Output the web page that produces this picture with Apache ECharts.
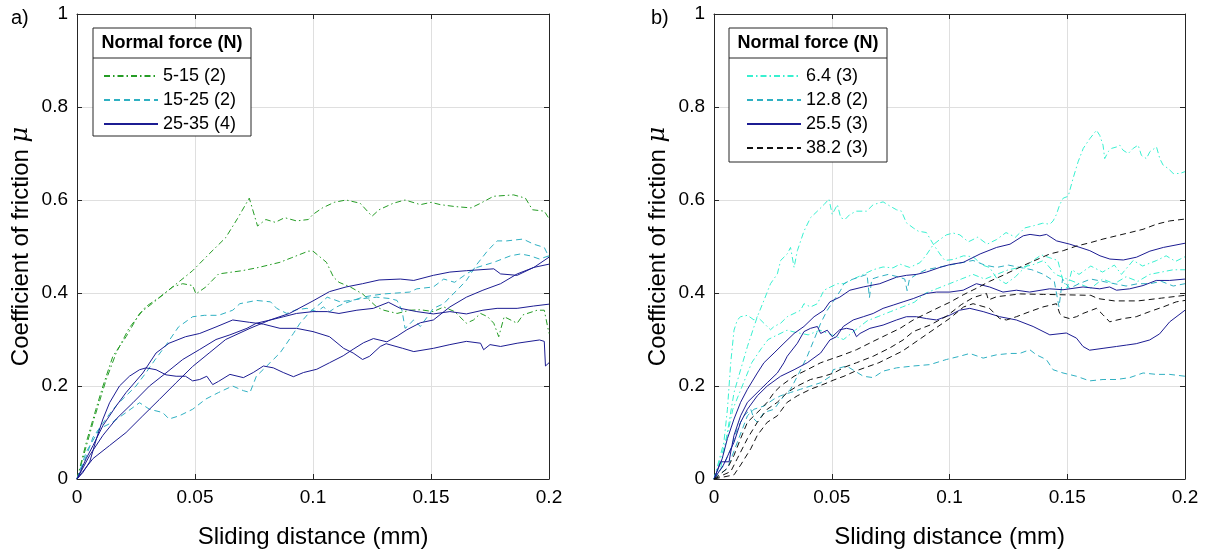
<!DOCTYPE html>
<html>
<head>
<meta charset="utf-8">
<script src="https://cdn.jsdelivr.net/npm/echarts@6/dist/echarts.min.js"></script>
<style>
html,body{margin:0;padding:0;background:#fff;}
#chart{width:1210px;height:554px;}
</style>
</head>
<body>
<div id="chart"></div>
<script>
// ---------- DATA ----------
const xTicks = [0, 0.05, 0.1, 0.15, 0.2];
const yTicks = [0, 0.2, 0.4, 0.6, 0.8, 1];
const legendLeft = ['5-15 (2)', '15-25 (2)', '25-35 (4)'];
const legendRight = ['6.4 (3)', '12.8 (2)', '25.5 (3)', '38.2 (3)'];

// Panel a) — 5-15 N (green dash-dot)
const a_g1 = [[0,0],[0.004,0.08],[0.008,0.15],[0.011,0.2],[0.0152,0.264],[0.0208,0.306],[0.0265,0.356],[0.0335,0.384],[0.0405,0.413],[0.049,0.448],[0.056,0.484],[0.063,0.519],[0.068,0.56],[0.073,0.604],[0.0765,0.544],[0.08,0.558],[0.084,0.552],[0.088,0.562],[0.093,0.555],[0.098,0.558],[0.1,0.569],[0.104,0.583],[0.109,0.595],[0.114,0.6],[0.12,0.593],[0.125,0.565],[0.128,0.579],[0.134,0.593],[0.139,0.6],[0.1455,0.59],[0.15,0.595],[0.154,0.59],[0.16,0.586],[0.167,0.583],[0.171,0.593],[0.1765,0.608],[0.185,0.611],[0.19,0.604],[0.193,0.579],[0.198,0.576],[0.2,0.56]];
const a_g2 = [[0,0],[0.0068,0.122],[0.0124,0.214],[0.0166,0.271],[0.022,0.324],[0.029,0.37],[0.035,0.391],[0.0405,0.413],[0.0448,0.42],[0.049,0.416],[0.0504,0.398],[0.0546,0.413],[0.06,0.441],[0.07,0.448],[0.077,0.455],[0.086,0.466],[0.091,0.476],[0.098,0.49],[0.1,0.49],[0.1057,0.466],[0.1087,0.434],[0.111,0.423],[0.1158,0.413],[0.121,0.398],[0.124,0.384],[0.127,0.37],[0.13,0.363],[0.1356,0.356],[0.141,0.363],[0.1455,0.364],[0.151,0.36],[0.1554,0.37],[0.16,0.36],[0.165,0.335],[0.168,0.342],[0.171,0.356],[0.174,0.349],[0.1766,0.335],[0.1787,0.306],[0.181,0.349],[0.1865,0.335],[0.189,0.353],[0.195,0.363],[0.198,0.363],[0.2,0.313]];
// 15-25 N (teal dashed)
const a_t1 = [[0,0],[0.004,0.05],[0.0068,0.09],[0.011,0.12],[0.0138,0.14],[0.017,0.16],[0.021,0.18],[0.025,0.2],[0.029,0.227],[0.033,0.256],[0.038,0.29],[0.043,0.327],[0.049,0.349],[0.054,0.352],[0.06,0.352],[0.066,0.363],[0.069,0.377],[0.076,0.384],[0.082,0.381],[0.0846,0.367],[0.0889,0.356],[0.093,0.364],[0.0974,0.367],[0.1016,0.36],[0.1044,0.37],[0.107,0.36],[0.11,0.37],[0.113,0.377],[0.117,0.384],[0.121,0.391],[0.1256,0.395],[0.13,0.398],[0.1356,0.4],[0.141,0.402],[0.144,0.409],[0.151,0.413],[0.1554,0.43],[0.16,0.423],[0.165,0.441],[0.1695,0.455],[0.1766,0.466],[0.1837,0.48],[0.188,0.484],[0.192,0.48],[0.196,0.473],[0.2,0.48]];
const a_t2 = [[0,0],[0.0039,0.058],[0.0096,0.108],[0.015,0.122],[0.0208,0.143],[0.0265,0.164],[0.0307,0.15],[0.0363,0.143],[0.039,0.129],[0.0434,0.136],[0.049,0.15],[0.0546,0.172],[0.06,0.186],[0.0659,0.2],[0.0705,0.19],[0.0733,0.186],[0.076,0.221],[0.079,0.236],[0.0818,0.25],[0.086,0.271],[0.0889,0.292],[0.0917,0.313],[0.0945,0.335],[0.0988,0.36],[0.103,0.377],[0.106,0.391],[0.1115,0.381],[0.1158,0.384],[0.121,0.388],[0.127,0.391],[0.1327,0.388],[0.1356,0.384],[0.1377,0.363],[0.139,0.324],[0.14,0.328],[0.1426,0.342],[0.1455,0.328],[0.151,0.367],[0.1554,0.377],[0.158,0.391],[0.161,0.406],[0.165,0.427],[0.1695,0.462],[0.174,0.491],[0.178,0.512],[0.182,0.512],[0.189,0.516],[0.1935,0.505],[0.198,0.498],[0.2,0.477]];
// 25-35 N (navy solid)
const a_n1 = [[0,0],[0.0054,0.051],[0.011,0.094],[0.0166,0.129],[0.0237,0.164],[0.0307,0.2],[0.0377,0.228],[0.0448,0.257],[0.0518,0.278],[0.0589,0.3],[0.0648,0.31],[0.072,0.324],[0.076,0.335],[0.082,0.342],[0.0875,0.349],[0.093,0.356],[0.1,0.36],[0.106,0.36],[0.111,0.356],[0.1186,0.363],[0.1256,0.367],[0.128,0.372],[0.132,0.38],[0.137,0.367],[0.144,0.36],[0.151,0.355],[0.158,0.36],[0.165,0.355],[0.172,0.363],[0.178,0.367],[0.1865,0.367],[0.1935,0.372],[0.2,0.376]];
const a_n2 = [[0,0],[0.0068,0.044],[0.0138,0.072],[0.0208,0.1],[0.0279,0.136],[0.0349,0.171],[0.042,0.207],[0.049,0.242],[0.056,0.271],[0.063,0.3],[0.0733,0.324],[0.0818,0.342],[0.09,0.356],[0.1,0.383],[0.107,0.403],[0.114,0.413],[0.121,0.42],[0.128,0.428],[0.137,0.43],[0.1427,0.427],[0.151,0.438],[0.158,0.445],[0.165,0.448],[0.1766,0.452],[0.1795,0.441],[0.1865,0.438],[0.1935,0.455],[0.2,0.462]];
const a_n3 = [[0,0],[0.0039,0.044],[0.0068,0.072],[0.011,0.115],[0.0166,0.157],[0.0208,0.186],[0.0279,0.228],[0.0335,0.271],[0.039,0.292],[0.046,0.306],[0.052,0.313],[0.0589,0.327],[0.066,0.342],[0.073,0.337],[0.079,0.333],[0.086,0.324],[0.093,0.324],[0.1,0.317],[0.107,0.306],[0.113,0.281],[0.117,0.271],[0.121,0.257],[0.124,0.264],[0.1285,0.285],[0.131,0.291],[0.138,0.281],[0.1427,0.274],[0.151,0.281],[0.158,0.289],[0.165,0.296],[0.171,0.292],[0.1723,0.278],[0.175,0.289],[0.1795,0.285],[0.1865,0.292],[0.196,0.299],[0.198,0.296],[0.1985,0.243],[0.2,0.25]];
const a_n4 = [[0,0],[0.0025,0.014],[0.0054,0.037],[0.0082,0.086],[0.011,0.129],[0.0138,0.164],[0.018,0.2],[0.0222,0.221],[0.0265,0.235],[0.0293,0.239],[0.0335,0.235],[0.0377,0.224],[0.042,0.221],[0.046,0.221],[0.049,0.211],[0.052,0.214],[0.055,0.221],[0.0575,0.203],[0.06,0.21],[0.0648,0.225],[0.0705,0.218],[0.0747,0.229],[0.079,0.243],[0.0832,0.239],[0.0874,0.229],[0.0917,0.22],[0.096,0.229],[0.1016,0.236],[0.107,0.25],[0.1128,0.265],[0.117,0.279],[0.1214,0.293],[0.1256,0.302],[0.1313,0.295],[0.1356,0.307],[0.1398,0.321],[0.1455,0.336],[0.151,0.342],[0.158,0.37],[0.165,0.391],[0.172,0.406],[0.1795,0.42],[0.1865,0.441],[0.1936,0.455],[0.2,0.477]];

// Panel b) — 6.4 N (cyan dash-dot)
const b_c1 = [[0,0],[0.0028,0.023],[0.0057,0.101],[0.0085,0.186],[0.0113,0.235],[0.0142,0.285],[0.0184,0.349],[0.0212,0.384],[0.024,0.42],[0.0269,0.441],[0.0283,0.47],[0.0311,0.484],[0.0325,0.498],[0.034,0.455],[0.0354,0.491],[0.0382,0.533],[0.041,0.562],[0.0439,0.576],[0.0467,0.59],[0.0488,0.602],[0.0502,0.569],[0.0524,0.59],[0.0538,0.562],[0.0556,0.558],[0.0577,0.569],[0.0605,0.576],[0.0648,0.576],[0.0676,0.59],[0.0718,0.596],[0.0747,0.587],[0.0775,0.579],[0.0796,0.576],[0.0817,0.551],[0.0846,0.54],[0.0867,0.533],[0.0902,0.53],[0.0931,0.505],[0.0959,0.484],[0.098,0.47],[0.1015,0.472],[0.106,0.48],[0.11,0.478],[0.114,0.46],[0.117,0.455],[0.12,0.432],[0.124,0.42],[0.128,0.435],[0.131,0.45],[0.135,0.468],[0.139,0.482],[0.143,0.475],[0.146,0.47],[0.148,0.43],[0.15,0.41],[0.152,0.45],[0.155,0.44],[0.16,0.458],[0.165,0.445],[0.17,0.46],[0.173,0.44],[0.178,0.47],[0.182,0.458],[0.188,0.47],[0.192,0.48],[0.196,0.468],[0.2,0.478]];
const b_c2 = [[0,0],[0.005,0.08],[0.008,0.15],[0.012,0.2],[0.016,0.25],[0.02,0.28],[0.023,0.3],[0.027,0.31],[0.031,0.32],[0.035,0.315],[0.04,0.31],[0.045,0.32],[0.05,0.31],[0.055,0.3],[0.06,0.32],[0.065,0.34],[0.07,0.35],[0.075,0.36],[0.08,0.37],[0.085,0.38],[0.09,0.4],[0.095,0.41],[0.1,0.42],[0.105,0.43],[0.11,0.44],[0.115,0.43],[0.12,0.44],[0.125,0.45],[0.13,0.455],[0.135,0.46],[0.14,0.47],[0.145,0.44],[0.15,0.43],[0.155,0.42],[0.16,0.41],[0.165,0.43],[0.17,0.42],[0.175,0.435],[0.18,0.425],[0.185,0.44],[0.19,0.445],[0.195,0.45],[0.2,0.45]];
const b_c3 = [[0,0],[0.0042,0.079],[0.0057,0.15],[0.0071,0.25],[0.0085,0.32],[0.0099,0.342],[0.0113,0.349],[0.0142,0.352],[0.017,0.342],[0.0184,0.349],[0.0198,0.342],[0.0212,0.335],[0.0226,0.328],[0.024,0.321],[0.0255,0.328],[0.0283,0.335],[0.0311,0.349],[0.034,0.356],[0.0368,0.363],[0.0382,0.377],[0.041,0.37],[0.0439,0.377],[0.0467,0.406],[0.0495,0.413],[0.0524,0.42],[0.0552,0.42],[0.0592,0.43],[0.0634,0.44],[0.0676,0.45],[0.0718,0.456],[0.076,0.454],[0.079,0.462],[0.0831,0.455],[0.0874,0.465],[0.0902,0.482],[0.0931,0.504],[0.0959,0.515],[0.0987,0.525],[0.1015,0.529],[0.1044,0.525],[0.108,0.51],[0.112,0.52],[0.116,0.505],[0.12,0.515],[0.124,0.53],[0.128,0.52],[0.132,0.54],[0.136,0.545],[0.1395,0.55],[0.1426,0.548],[0.144,0.555],[0.1454,0.569],[0.1468,0.59],[0.1483,0.604],[0.1504,0.608],[0.1525,0.647],[0.1546,0.682],[0.1568,0.711],[0.1596,0.732],[0.1624,0.75],[0.1638,0.739],[0.1652,0.718],[0.1659,0.689],[0.1674,0.704],[0.1688,0.711],[0.1709,0.714],[0.1723,0.718],[0.1737,0.707],[0.1759,0.7],[0.178,0.711],[0.1801,0.718],[0.1815,0.696],[0.1836,0.689],[0.1851,0.704],[0.1879,0.714],[0.1893,0.689],[0.1907,0.675],[0.1928,0.668],[0.195,0.657],[0.1978,0.657],[0.2,0.661]];
// 12.8 N (teal dashed)
const b_t1 = [[0,0],[0.0057,0.023],[0.0099,0.079],[0.0142,0.136],[0.017,0.15],[0.0212,0.157],[0.0255,0.172],[0.0283,0.179],[0.0325,0.186],[0.0368,0.193],[0.041,0.2],[0.0453,0.207],[0.0495,0.221],[0.0506,0.235],[0.0563,0.243],[0.0634,0.221],[0.0676,0.218],[0.0718,0.232],[0.0775,0.239],[0.0846,0.243],[0.0917,0.246],[0.0987,0.257],[0.1044,0.264],[0.1086,0.27],[0.1143,0.26],[0.1199,0.267],[0.1256,0.27],[0.1298,0.27],[0.1341,0.278],[0.1369,0.267],[0.1411,0.257],[0.144,0.235],[0.1482,0.228],[0.1539,0.221],[0.1595,0.211],[0.1652,0.214],[0.1709,0.214],[0.1765,0.218],[0.1822,0.228],[0.1878,0.225],[0.1935,0.225],[0.2,0.221]];
const b_t2 = [[0,0],[0.0042,0.03],[0.0071,0.065],[0.0099,0.108],[0.0127,0.136],[0.0156,0.15],[0.017,0.129],[0.0184,0.122],[0.0212,0.143],[0.0255,0.15],[0.0297,0.179],[0.0325,0.193],[0.0354,0.221],[0.0368,0.235],[0.0396,0.264],[0.0425,0.3],[0.0453,0.335],[0.0481,0.363],[0.0509,0.384],[0.0538,0.406],[0.0552,0.42],[0.058,0.428],[0.062,0.435],[0.065,0.44],[0.066,0.39],[0.067,0.43],[0.07,0.435],[0.074,0.44],[0.078,0.435],[0.081,0.43],[0.082,0.405],[0.083,0.43],[0.086,0.44],[0.09,0.45],[0.095,0.455],[0.1,0.46],[0.105,0.465],[0.11,0.47],[0.115,0.46],[0.12,0.455],[0.125,0.46],[0.13,0.455],[0.135,0.45],[0.14,0.44],[0.1445,0.425],[0.1465,0.37],[0.148,0.43],[0.151,0.41],[0.155,0.42],[0.16,0.43],[0.165,0.425],[0.17,0.42],[0.175,0.415],[0.18,0.42],[0.185,0.42],[0.19,0.425],[0.195,0.415],[0.2,0.42]];
// 25.5 N (navy solid)
const b_n1 = [[0,0],[0.0035,0.044],[0.0057,0.087],[0.0085,0.129],[0.0113,0.165],[0.0142,0.193],[0.0184,0.228],[0.0212,0.25],[0.0255,0.271],[0.0297,0.292],[0.034,0.313],[0.0382,0.328],[0.0425,0.349],[0.0467,0.363],[0.0492,0.381],[0.0534,0.391],[0.0577,0.406],[0.0634,0.413],[0.0704,0.42],[0.0775,0.434],[0.0817,0.438],[0.086,0.44],[0.0902,0.445],[0.0959,0.455],[0.1001,0.461],[0.1059,0.466],[0.113,0.484],[0.12,0.498],[0.1257,0.505],[0.1313,0.523],[0.1342,0.526],[0.1384,0.523],[0.1412,0.526],[0.1455,0.512],[0.1511,0.505],[0.1554,0.498],[0.1596,0.491],[0.1639,0.48],[0.1681,0.473],[0.1738,0.471],[0.1794,0.477],[0.1851,0.49],[0.1908,0.498],[0.2,0.507]];
const b_n2 = [[0,0],[0.004,0.03],[0.0085,0.079],[0.0113,0.122],[0.0142,0.15],[0.0184,0.179],[0.0226,0.2],[0.0283,0.221],[0.034,0.235],[0.0396,0.25],[0.0453,0.271],[0.0492,0.299],[0.052,0.306],[0.0549,0.328],[0.0591,0.342],[0.0634,0.349],[0.0676,0.356],[0.0718,0.367],[0.0761,0.374],[0.0803,0.381],[0.0846,0.388],[0.0902,0.399],[0.0945,0.402],[0.1001,0.402],[0.1058,0.406],[0.1114,0.42],[0.117,0.413],[0.1227,0.402],[0.1284,0.406],[0.134,0.402],[0.1425,0.409],[0.1482,0.407],[0.1567,0.413],[0.1638,0.409],[0.168,0.413],[0.1709,0.406],[0.1765,0.409],[0.1822,0.416],[0.1878,0.427],[0.1935,0.427],[0.2,0.43]];
const b_n3 = [[0,0],[0.0028,0.037],[0.0064,0.037],[0.0071,0.058],[0.0085,0.094],[0.0113,0.136],[0.0142,0.165],[0.017,0.179],[0.0198,0.193],[0.0226,0.207],[0.0269,0.228],[0.0297,0.25],[0.0311,0.264],[0.0354,0.292],[0.0382,0.317],[0.041,0.324],[0.0439,0.328],[0.0453,0.313],[0.0481,0.32],[0.0502,0.306],[0.0534,0.321],[0.0563,0.324],[0.0591,0.321],[0.0605,0.306],[0.062,0.313],[0.0662,0.324],[0.0718,0.331],[0.0775,0.342],[0.0817,0.349],[0.086,0.349],[0.0902,0.345],[0.0945,0.342],[0.1,0.352],[0.1043,0.363],[0.1086,0.367],[0.1143,0.36],[0.1213,0.349],[0.1284,0.342],[0.1355,0.328],[0.1426,0.31],[0.1496,0.314],[0.1539,0.303],[0.1567,0.285],[0.1595,0.277],[0.1652,0.281],[0.1709,0.285],[0.1751,0.288],[0.1793,0.291],[0.185,0.299],[0.1892,0.312],[0.1935,0.338],[0.2,0.363]];
// 38.2 N (black dashed)
const b_k1 = [[0,0],[0.0057,0.023],[0.0085,0.051],[0.0113,0.087],[0.0142,0.122],[0.017,0.136],[0.0198,0.15],[0.0226,0.165],[0.0255,0.186],[0.0283,0.2],[0.034,0.221],[0.0396,0.235],[0.0453,0.25],[0.0492,0.257],[0.0549,0.267],[0.0605,0.278],[0.0676,0.296],[0.0733,0.31],[0.079,0.324],[0.0846,0.342],[0.0902,0.356],[0.0959,0.37],[0.1001,0.38],[0.1058,0.396],[0.1114,0.41],[0.117,0.425],[0.1227,0.438],[0.1284,0.452],[0.134,0.465],[0.1426,0.484],[0.1483,0.491],[0.1539,0.501],[0.1596,0.508],[0.1652,0.516],[0.1709,0.523],[0.1766,0.53],[0.1822,0.537],[0.1879,0.548],[0.1935,0.555],[0.2,0.559]];
const b_k2 = [[0,0],[0.0071,0.016],[0.0099,0.044],[0.0142,0.087],[0.0184,0.122],[0.0226,0.15],[0.0269,0.165],[0.0311,0.186],[0.0354,0.2],[0.041,0.214],[0.0467,0.221],[0.0509,0.228],[0.0552,0.24],[0.0605,0.25],[0.0676,0.264],[0.0747,0.282],[0.0803,0.299],[0.0846,0.317],[0.0917,0.331],[0.0987,0.35],[0.105,0.375],[0.11,0.39],[0.1157,0.399],[0.1165,0.385],[0.12,0.392],[0.13,0.398],[0.14,0.397],[0.15,0.396],[0.16,0.395],[0.163,0.388],[0.17,0.383],[0.18,0.383],[0.19,0.389],[0.2,0.395]];
const b_k3 = [[0,0],[0.0085,0.009],[0.0113,0.03],[0.0156,0.065],[0.0184,0.094],[0.0226,0.122],[0.0269,0.136],[0.0311,0.165],[0.0354,0.179],[0.041,0.193],[0.0467,0.204],[0.0509,0.213],[0.0552,0.221],[0.06,0.232],[0.07,0.25],[0.08,0.275],[0.09,0.31],[0.1,0.345],[0.106,0.37],[0.11,0.377],[0.117,0.367],[0.1213,0.345],[0.1242,0.342],[0.1284,0.349],[0.1341,0.36],[0.1397,0.37],[0.1454,0.377],[0.1468,0.356],[0.1482,0.349],[0.151,0.345],[0.1539,0.349],[0.1567,0.356],[0.1624,0.367],[0.1652,0.353],[0.168,0.338],[0.1737,0.345],[0.1793,0.349],[0.185,0.36],[0.1907,0.37],[0.1963,0.381],[0.2,0.384]];

// ---------- STYLE ----------
const FONT = 'Liberation Sans, Arial, Helvetica, sans-serif';
const C_GREEN = '#259c25', C_TEAL = '#2fb0c2', C_NAVY = '#1c1c92', C_CYAN = '#38f0d0', C_BLACK = '#111111';
const DASHDOT = [6, 3, 1.5, 3], DASH = [6, 4];

function line(name, data, color, dash, panel) {
  return {
    type: 'line', name: name, data: data,
    xAxisIndex: panel * 2, yAxisIndex: panel * 2,
    symbol: 'none', showSymbol: false, smooth: false, animation: false,
    lineStyle: { color: color, width: 1, type: dash },
    itemStyle: { color: color },
    emphasis: { disabled: true }
  };
}

const grids = [
  { left: 77, top: 14, width: 472, height: 470 },
  { left: 714, top: 14, width: 471, height: 470 }
];

function xAxes(gi) {
  const base = { type: 'value', gridIndex: gi, min: xTicks[0], max: xTicks[xTicks.length - 1], interval: xTicks[1] - xTicks[0] };
  return [
    Object.assign({}, base, {
      position: 'bottom',
      name: 'Sliding distance (mm)', nameLocation: 'middle', nameGap: 46,
      nameTextStyle: { fontSize: 24, fontFamily: FONT, color: '#000' },
      axisLine: { show: true, onZero: false, lineStyle: { color: '#262626', width: 1 } },
      axisTick: { show: true, inside: true, length: 5, lineStyle: { color: '#262626' } },
      axisLabel: { show: true, margin: 9, fontSize: 19, fontFamily: FONT, color: '#000' },
      splitLine: { show: true, lineStyle: { color: '#dfdfdf', width: 1 } }
    }),
    Object.assign({}, base, {
      position: 'top',
      axisLine: { show: true, onZero: false, lineStyle: { color: '#262626', width: 1 } },
      axisTick: { show: true, inside: true, length: 5, lineStyle: { color: '#262626' } },
      axisLabel: { show: false }, splitLine: { show: false }
    })
  ];
}
function yAxes(gi) {
  const base = { type: 'value', gridIndex: gi, min: yTicks[0], max: yTicks[yTicks.length - 1], interval: yTicks[1] - yTicks[0] };
  return [
    Object.assign({}, base, {
      position: 'left',
      name: 'Coefficient of friction {i|μ}', nameLocation: 'middle', nameGap: 44,
      nameTextStyle: { fontSize: 24, fontFamily: FONT, color: '#000', rich: { i: { fontSize: 24, fontStyle: 'italic', fontFamily: 'DejaVu Serif, serif', color: '#000' } } },
      axisLine: { show: true, onZero: false, lineStyle: { color: '#262626', width: 1 } },
      axisTick: { show: true, inside: true, length: 5, lineStyle: { color: '#262626' } },
      axisLabel: { show: true, margin: 9, fontSize: 19, fontFamily: FONT, color: '#000' },
      splitLine: { show: true, lineStyle: { color: '#dfdfdf', width: 1 } }
    }),
    Object.assign({}, base, {
      position: 'right',
      axisLine: { show: true, onZero: false, lineStyle: { color: '#262626', width: 1 } },
      axisTick: { show: true, inside: true, length: 5, lineStyle: { color: '#262626' } },
      axisLabel: { show: false }, splitLine: { show: false }
    })
  ];
}

const series = [
  line(legendLeft[0], a_g1, C_GREEN, DASHDOT, 0),
  line(legendLeft[0], a_g2, C_GREEN, DASHDOT, 0),
  line(legendLeft[1], a_t1, C_TEAL, DASH, 0),
  line(legendLeft[1], a_t2, C_TEAL, DASH, 0),
  line(legendLeft[2], a_n1, C_NAVY, 'solid', 0),
  line(legendLeft[2], a_n2, C_NAVY, 'solid', 0),
  line(legendLeft[2], a_n3, C_NAVY, 'solid', 0),
  line(legendLeft[2], a_n4, C_NAVY, 'solid', 0),
  line(legendRight[0], b_c1, C_CYAN, DASHDOT, 1),
  line(legendRight[0], b_c2, C_CYAN, DASHDOT, 1),
  line(legendRight[0], b_c3, C_CYAN, DASHDOT, 1),
  line(legendRight[1], b_t1, C_TEAL, DASH, 1),
  line(legendRight[1], b_t2, C_TEAL, DASH, 1),
  line(legendRight[2], b_n1, C_NAVY, 'solid', 1),
  line(legendRight[2], b_n2, C_NAVY, 'solid', 1),
  line(legendRight[2], b_n3, C_NAVY, 'solid', 1),
  line(legendRight[3], b_k1, C_BLACK, DASH, 1),
  line(legendRight[3], b_k2, C_BLACK, DASH, 1),
  line(legendRight[3], b_k3, C_BLACK, DASH, 1)
];

function legendBox(x, y, w, h, sepY) {
  return [
    { type: 'rect', z: 3, shape: { x: x, y: y, width: w, height: h }, style: { fill: '#fff', stroke: '#262626', lineWidth: 1 } },
    { type: 'line', z: 3, shape: { x1: x, y1: sepY, x2: x + w, y2: sepY }, style: { stroke: '#262626', lineWidth: 1 } },
    { type: 'text', z: 3, x: x + w / 2, y: y + (sepY - y) / 2, style: { text: 'Normal force (N)', fontSize: 18, fontWeight: 'bold', fontFamily: FONT, fill: '#000', align: 'center', verticalAlign: 'middle' } }
  ];
}

const legendCommon = {
  orient: 'vertical', itemWidth: 54, itemHeight: 14, itemGap: 6,
  textStyle: { fontSize: 18, fontFamily: FONT, color: '#000' },
  itemStyle: { color: 'rgba(0,0,0,0)', borderWidth: 0, opacity: 0 },
  selectedMode: false, z: 5
};

const option = {
  backgroundColor: '#fff',
  animation: false,
  grid: grids,
  xAxis: xAxes(0).concat(xAxes(1)),
  yAxis: yAxes(0).concat(yAxes(1)),
  legend: [
    Object.assign({}, legendCommon, { left: 98, top: 62, data: legendLeft }),
    Object.assign({}, legendCommon, { left: 741, top: 62, data: legendRight })
  ],
  graphic: [].concat(
    legendBox(93, 28, 158, 108, 58),
    legendBox(729, 28, 158, 134, 58),
    [
      { type: 'text', x: 11, y: 8, style: { text: 'a)', fontSize: 20, fontFamily: FONT, fill: '#000' } },
      { type: 'text', x: 651, y: 8, style: { text: 'b)', fontSize: 20, fontFamily: FONT, fill: '#000' } }
    ]
  ),
  series: series
};

const chart = echarts.init(document.getElementById('chart'), null, { renderer: 'canvas' });
chart.setOption(option);
</script>
</body>
</html>
